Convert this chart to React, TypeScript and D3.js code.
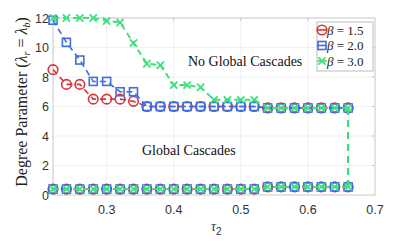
import React from "react";
import * as d3 from "d3";

// tau_2 sample points
const tau = [0.22, 0.24, 0.26, 0.28, 0.3, 0.32, 0.34, 0.36, 0.38, 0.4, 0.42, 0.44, 0.46, 0.48, 0.5, 0.52, 0.54, 0.56, 0.58, 0.6, 0.62, 0.64, 0.66];

// upper threshold (no global cascades above)
const upper15 = [8.5, 7.5, 7.5, 6.5, 6.5, 6.5, 6.35, 6.0, 6.0, 6.0, 6.0, 6.0, 6.0, 6.0, 6.0, 6.0, 5.9, 5.9, 5.9, 5.9, 5.9, 5.9, 5.9];
const upper20 = [11.85, 10.35, 9.15, 7.7, 7.7, 7.0, 7.0, 6.0, 6.0, 6.0, 6.0, 6.0, 6.0, 6.0, 6.0, 6.0, 5.9, 5.9, 5.9, 5.9, 5.9, 5.9, 5.9];
const upper30 = [12.0, 12.0, 12.0, 12.0, 11.8, 11.7, 10.3, 8.9, 8.8, 7.45, 7.45, 7.3, 6.45, 6.45, 6.45, 6.45, 5.9, 5.9, 5.9, 5.9, 5.9, 5.9, 5.9];

// lower threshold (same for all beta)
const lower = [0.4, 0.4, 0.4, 0.4, 0.4, 0.4, 0.4, 0.4, 0.4, 0.4, 0.4, 0.4, 0.4, 0.4, 0.4, 0.4, 0.55, 0.55, 0.55, 0.55, 0.55, 0.55, 0.55];

const xTicks = [0.3, 0.4, 0.5, 0.6, 0.7];
const yTicks = [0, 2, 4, 6, 8, 10, 12];

const series = [
  { beta: "1.5", upper: upper15, color: "#d8333c", marker: "circle" },
  { beta: "2.0", upper: upper20, color: "#3f6ee0", marker: "square" },
  { beta: "3.0", upper: upper30, color: "#3ee07c", marker: "cross" },
];

const W = 415;
const H = 243;
const left = 53;
const right = 375;
const top = 18;
const bottom = 195;

const x = d3.scaleLinear().domain([0.22, 0.7]).range([left, right]);
const y = d3.scaleLinear().domain([0, 12]).range([bottom, top]);

const line = d3
  .line<[number, number]>()
  .x((d) => x(d[0]))
  .y((d) => y(d[1]));

function Marker({ kind, cx, cy, color }: { kind: string; cx: number; cy: number; color: string }) {
  if (kind === "circle")
    return <circle cx={cx} cy={cy} r={4.8} fill="none" stroke={color} strokeWidth={1.6} />;
  if (kind === "square")
    return <rect x={cx - 4} y={cy - 4} width={8} height={8} fill="none" stroke={color} strokeWidth={1.6} />;
  const s = 3.6;
  return (
    <path
      d={`M${cx - s},${cy - s}L${cx + s},${cy + s}M${cx - s},${cy + s}L${cx + s},${cy - s}`}
      stroke={color}
      strokeWidth={1.8}
      fill="none"
    />
  );
}

export default function App() {
  const serif = "'Liberation Serif', 'DejaVu Serif', serif";
  const sans = "'Liberation Sans', Arial, sans-serif";
  return (
    <svg width={W} height={H} style={{ position: "absolute", left: 0, top: 0, background: "#fff" }}>
      <rect x={0} y={0} width={W} height={H} fill="#fff" />
      {/* grid */}
      {xTicks.slice(0, -1).map((t) => (
        <line key={"gx" + t} x1={x(t)} x2={x(t)} y1={top} y2={bottom} stroke="#ececec" strokeWidth={0.8} />
      ))}
      {yTicks.slice(1, -1).map((t) => (
        <line key={"gy" + t} x1={left} x2={right} y1={y(t)} y2={y(t)} stroke="#ececec" strokeWidth={0.8} />
      ))}
      {/* box */}
      <rect x={left} y={top} width={right - left} height={bottom - top} fill="none" stroke="#c8c8c8" strokeWidth={1} />
      {/* right-side ticks */}
      {yTicks.slice(1, -1).map((t) => (
        <line key={"ty" + t} x1={right - 3} x2={right} y1={y(t)} y2={y(t)} stroke="#c8c8c8" />
      ))}
      {xTicks.slice(0, -1).map((t) => (
        <line key={"tx" + t} x1={x(t)} x2={x(t)} y1={top} y2={top + 3} stroke="#c8c8c8" />
      ))}
      {/* tick labels */}
      {xTicks.map((t) => (
        <text key={"lx" + t} x={x(t)} y={214} textAnchor="middle" fontFamily={sans} fontSize={12.5} fill="#333">
          {t.toFixed(1)}
        </text>
      ))}
      {yTicks.map((t) => (
        <text key={"ly" + t} x={49} y={y(t) + 4.5} textAnchor="end" fontFamily={sans} fontSize={12.5} fill="#333">
          {t}
        </text>
      ))}
      {/* axis labels */}
      <text x={211} y={231} fontFamily={serif} fontStyle="italic" fontSize={14} fill="#333">
        τ
        <tspan dy={4} fontStyle="normal" fontFamily={sans} fontSize={10}>2</tspan>
      </text>
      <text
        transform="translate(27,102) rotate(-90)"
        textAnchor="middle"
        fontFamily={serif}
        fontSize={16}
        fill="#222"
      >
        Degree Parameter (
        <tspan fontStyle="italic">λ</tspan>
        <tspan fontStyle="italic" fontSize={10} dy={3}>r</tspan>
        <tspan dy={-3}> = </tspan>
        <tspan fontStyle="italic">λ</tspan>
        <tspan fontStyle="italic" fontSize={10} dy={3}>b</tspan>
        <tspan dy={-3}>)</tspan>
      </text>
      {/* region annotations */}
      <text x={188} y={66} fontFamily={serif} fontSize={14} fill="#111">No Global Cascades</text>
      <text x={142} y={155} fontFamily={serif} fontSize={14} fill="#111">Global Cascades</text>
      {/* series */}
      {series.map((s) => {
        const up: [number, number][] = tau.map((t, i) => [t, s.upper[i]]);
        const low: [number, number][] = tau.map((t, i) => [t, lower[i]]);
        const last = tau.length - 1;
        const drop: [number, number][] = [
          [tau[last], s.upper[last]],
          [tau[last], lower[last]],
        ];
        const w = s.marker === "cross" ? 2 : 1.6;
        return (
          <g key={s.beta}>
            <path d={line(up) || ""} fill="none" stroke={s.color} strokeWidth={w} strokeDasharray="6,4" />
            <path d={line(low) || ""} fill="none" stroke={s.color} strokeWidth={w} strokeDasharray="6,4" />
            <path d={line(drop) || ""} fill="none" stroke={s.color} strokeWidth={w} strokeDasharray="7,5" />
            {up.map((d, i) => (
              <Marker key={"u" + i} kind={s.marker} cx={x(d[0])} cy={y(d[1])} color={s.color} />
            ))}
            {low.map((d, i) => (
              <Marker key={"l" + i} kind={s.marker} cx={x(d[0])} cy={y(d[1])} color={s.color} />
            ))}
          </g>
        );
      })}
      {/* legend */}
      <rect x={317} y={22} width={56} height={49} fill="#fff" stroke="#bdbdbd" strokeWidth={1} />
      {series.map((s, i) => {
        const cy = 30 + i * 15.5;
        return (
          <g key={"lg" + s.beta}>
            <line x1={317} x2={327} y1={cy} y2={cy} stroke={s.color} strokeWidth={1.6} />
            <Marker kind={s.marker} cx={322} cy={cy} color={s.color} />
            <text x={327} y={cy + 4.5} fontFamily={serif} fontSize={13} fill="#222">
              <tspan fontStyle="italic">β</tspan> = {s.beta}
            </text>
          </g>
        );
      })}
    </svg>
  );
}
